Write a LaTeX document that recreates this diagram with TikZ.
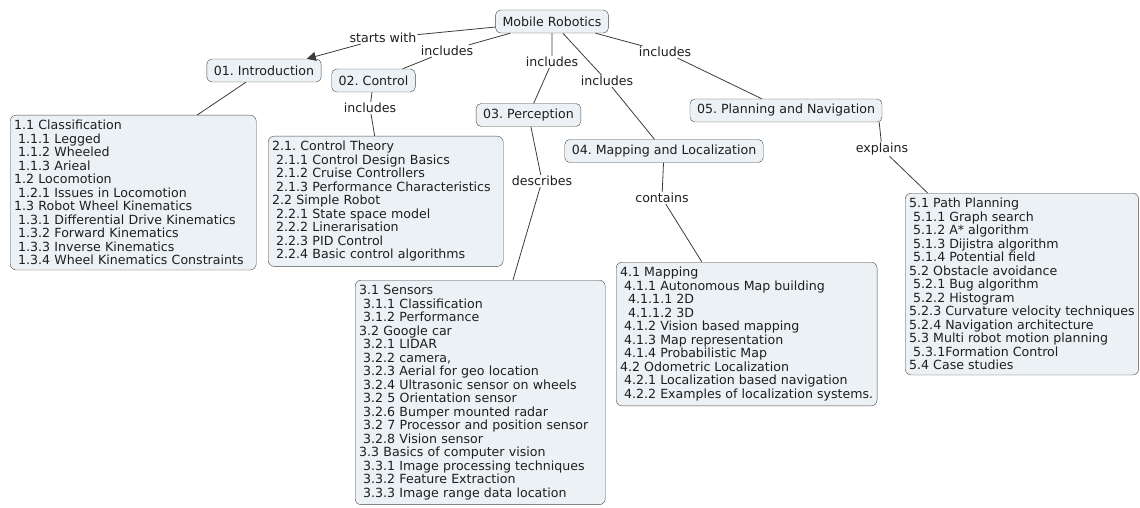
\documentclass[tikz,border=0pt]{standalone}
\usepackage{fontspec}
\setmainfont{DejaVu Sans}
\usepackage{tikz}
\usetikzlibrary{arrows.meta}
\usepackage{xcolor}

\definecolor{boxfill}{HTML}{EBF1F4}
\definecolor{boxline}{HTML}{4A4A4A}
\definecolor{linkline}{HTML}{3C3C3C}
\definecolor{maptext}{HTML}{1E1E1E}

\newcommand\mapfont{\fontsize{12.6}{13.5}\selectfont\frenchspacing}
\newcommand\lvl{\hspace*{4pt}}

\tikzset{
  topic/.style={draw=boxline, fill=boxfill, rounded corners=5pt, minimum height=23pt,
    inner xsep=7pt, inner ysep=3pt, font=\mapfont, text=maptext},
  itemlist/.style={draw=boxline, fill=boxfill, rounded corners=6pt, inner xsep=4pt,
    inner ysep=5pt, align=left, anchor=north west, font=\mapfont, text=maptext},
  linklabel/.style={fill=white, inner sep=1pt, font=\mapfont, text=maptext},
  link/.style={draw=linkline, line width=0.8pt}
}

\begin{document}
\begin{tikzpicture}[x=1pt,y=-1pt]
\useasboundingbox (0,0) rectangle (1140,508);

\node[topic] (mobile) at (552,21.5) {Mobile Robotics};
\node[topic] (intro) at (264,70.5) {01. Introduction};
\node[topic] (control) at (373.5,80.5) {02. Control};
\node[topic] (perception) at (528.5,115) {03. Perception};
\node[topic] (mapping) at (664,151) {04. Mapping and Localization};
\node[topic] (planning) at (786,110.5) {05. Planning and Navigation};

\node[itemlist, text width=238pt] (introlist) at (10,115) {1.1 Classification\\
\lvl 1.1.1 Legged\\
\lvl 1.1.2 Wheeled\\
\lvl 1.1.3 Arieal\\
1.2 Locomotion\\
\lvl 1.2.1 Issues in Locomotion\\
1.3 Robot Wheel Kinematics\\
\lvl 1.3.1 Differential Drive Kinematics\\
\lvl 1.3.2 Forward Kinematics\\
\lvl 1.3.3 Inverse Kinematics\\
\lvl 1.3.4 Wheel Kinematics Constraints};

\node[itemlist, text width=227pt] (controllist) at (268,136) {2.1. Control Theory\\
\lvl 2.1.1 Control Design Basics\\
\lvl 2.1.2 Cruise Controllers\\
\lvl 2.1.3 Performance Characteristics\\
2.2 Simple Robot\\
\lvl 2.2.1 State space model\\
\lvl 2.2.2 Linerarisation\\
\lvl 2.2.3 PID Control\\
\lvl 2.2.4 Basic control algorithms};

\node[itemlist, text width=242pt] (perceptionlist) at (355,280) {3.1 Sensors\\
\lvl 3.1.1 Classification\\
\lvl 3.1.2 Performance\\
3.2 Google car\\
\lvl 3.2.1 LIDAR\\
\lvl 3.2.2 camera,\\
\lvl 3.2.3 Aerial for geo location\\
\lvl 3.2.4 Ultrasonic sensor on wheels\\
\lvl 3.2 5 Orientation sensor\\
\lvl 3.2.6 Bumper mounted radar\\
\lvl 3.2 7 Processor and position sensor\\
\lvl 3.2.8 Vision sensor\\
3.3 Basics of computer vision\\
\lvl 3.3.1 Image processing techniques\\
\lvl 3.3.2 Feature Extraction\\
\lvl 3.3.3 Image range data location};

\node[itemlist] (mappinglist) at (616,262) {4.1 Mapping\\
\lvl 4.1.1 Autonomous Map building\\
\lvl\lvl 4.1.1.1 2D\\
\lvl\lvl 4.1.1.2 3D\\
\lvl 4.1.2 Vision based mapping\\
\lvl 4.1.3 Map representation\\
\lvl 4.1.4 Probabilistic Map\\
4.2 Odometric Localization\\
\lvl 4.2.1 Localization based navigation\\
\lvl 4.2.2 Examples of localization systems.};

\node[itemlist] (planninglist) at (905,193) {5.1 Path Planning\\
\lvl 5.1.1 Graph search\\
\lvl 5.1.2 A* algorithm\\
\lvl 5.1.3 Dijistra algorithm\\
\lvl 5.1.4 Potential field\\
5.2 Obstacle avoidance\\
\lvl 5.2.1 Bug algorithm\\
\lvl 5.2.2 Histogram\\
5.2.3 Curvature velocity techniques\\
5.2.4 Navigation architecture\\
5.3 Multi robot motion planning\\
\lvl 5.3.1Formation Control\\
5.4 Case studies};

\node[linklabel] (startswith) at (383,38) {starts with};
\node[linklabel] (inccontrol) at (447,51) {includes};
\node[linklabel] (incperception) at (552,62) {includes};
\node[linklabel] (incmapping) at (607,81) {includes};
\node[linklabel] (incplanning) at (665,52) {includes};
\node[linklabel] (ctrlincludes) at (370,108) {includes};
\node[linklabel] (describes) at (542,181) {describes};
\node[linklabel] (contains) at (662,198) {contains};
\node[linklabel] (explains) at (882,149) {explains};

\draw[link,-{Triangle[length=9pt,width=9pt]}] (mobile) -- (startswith) -- (intro);
\draw[link] (mobile) -- (inccontrol) -- (control);
\draw[link] (mobile) -- (incperception) -- (perception);
\draw[link] (mobile) -- (incmapping) -- (mapping);
\draw[link] (mobile) -- (incplanning) -- (planning);
\draw[link] ([xshift=-18pt]intro.south) -- ([xshift=64pt]introlist.north);
\draw[link] (control) -- (ctrlincludes) -- (controllist);
\draw[link] (perception) -- (describes) -- (perceptionlist);
\draw[link] (mapping) -- (contains) -- (mappinglist);
\draw[link] ([xshift=-3pt]planning.south east) -- (explains) -- (planninglist);
\end{tikzpicture}
\end{document}
